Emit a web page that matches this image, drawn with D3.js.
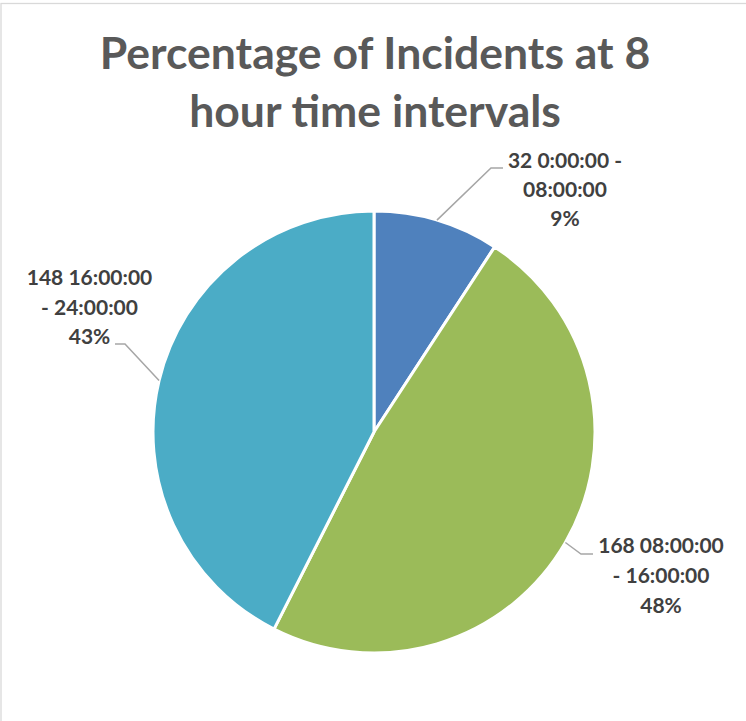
<!DOCTYPE html>
<html>
<head>
<meta charset="utf-8">
<script src="https://cdn.jsdelivr.net/npm/d3@7"></script>
<style>
	body { margin: 0; background: #fff; }
	svg { display: block; }
</style>
</head>
<body>
<svg width="746" height="721"></svg>
<script>

// chart data
const titleLines = ['Percentage of Incidents at 8', 'hour time intervals'];
const intervals = ['0:00:00 - 08:00:00', '08:00:00 - 16:00:00', '16:00:00 - 24:00:00'];
const counts = [32, 168, 148];
const labelLines = [
	['32 0:00:00 -', '08:00:00', '9%'],
	['168 08:00:00', '- 16:00:00', '48%'],
	['148 16:00:00', '- 24:00:00', '43%']
];

const COLORS = ['#4F81BD', '#9BBB59', '#4BACC6'];
const FONT = 'Lato, "Open Sans", sans-serif';

// where the labels sit, relative to the pie centre
const LABEL_LAYOUT = [
	{ elbow: [117, -264], end: [129, -264], x: 191, y: -264, gap: 29 },
	{ elbow: [207, 122], end: [219, 122], x: 287, y: 121, gap: 30 },
	{ elbow: [-249, -88], end: [-259, -88], x: -284.5, y: -147, gap: 29.5 }
];

function whenDocumentLoaded(action) {
	if (document.readyState === 'loading') {
		document.addEventListener('DOMContentLoaded', action);
	} else {
		action();
	}
}

whenDocumentLoaded(() => {

	const svg = d3.select('svg');
	const cx = 374;
	const cy = 432;
	const radius = 221;

	// chart frame
	svg.append('rect')
	.attr('x', 1)
	.attr('y', 3.5)
	.attr('width', 800)
	.attr('height', 800)
	.attr('fill', 'none')
	.attr('stroke', '#D9D9D9')
	.attr('stroke-width', 1.3);

	svg.append('g')
	.selectAll('text')
	.data(titleLines)
	.enter()
	.append('text')
	.attr('x', 375)
	.attr('y', (d, i) => 69 + i * 58)
	.attr('text-anchor', 'middle')
	.attr('font-family', FONT)
	.attr('font-weight', 'bold')
	.attr('font-size', 44.5)
	.attr('fill', '#595959')
	.text(d => d);

	const pie = d3.pie().sort(null).value(d => d);
	const arcs = pie(counts);
	const arc = d3.arc().innerRadius(0).outerRadius(radius);

	const g = svg.append('g')
	.attr('transform', 'translate(' + cx + ' ' + cy + ')');

	g.selectAll('.slice')
	.data(arcs)
	.enter()
	.append('path')
	.attr('class', 'slice')
	.attr('d', arc)
	.attr('fill', (d, i) => COLORS[i])
	.attr('stroke', '#fff')
	.attr('stroke-width', 3)
	.attr('stroke-linejoin', 'round')
	.append('title')
	.text((d, i) => intervals[i] + ': ' + d.data);

	// leader lines start at the middle of each slice's outer edge
	g.selectAll('.leader')
	.data(arcs)
	.enter()
	.append('polyline')
	.attr('class', 'leader')
	.attr('fill', 'none')
	.attr('stroke', '#A6A6A6')
	.attr('stroke-width', 1.5)
	.attr('points', (d, i) => {
		const a = (d.startAngle + d.endAngle) / 2;
		const start = [radius * Math.sin(a), -radius * Math.cos(a)];
		const l = LABEL_LAYOUT[i];
		return [start, l.elbow, l.end].map(p => p.join(',')).join(' ');
	});

	const labels = g.selectAll('.label')
	.data(arcs)
	.enter()
	.append('text')
	.attr('class', 'label')
	.attr('text-anchor', 'middle')
	.attr('font-family', FONT)
	.attr('font-weight', 'bold')
	.attr('font-size', 21)
	.attr('fill', '#404040');

	labels.each(function(d, i) {
		const l = LABEL_LAYOUT[i];
		d3.select(this).selectAll('tspan')
		.data(labelLines[i])
		.enter()
		.append('tspan')
		.attr('x', l.x)
		.attr('y', (t, j) => l.y + j * l.gap)
		.text(t => t);
	});

});

</script>
</body>
</html>
